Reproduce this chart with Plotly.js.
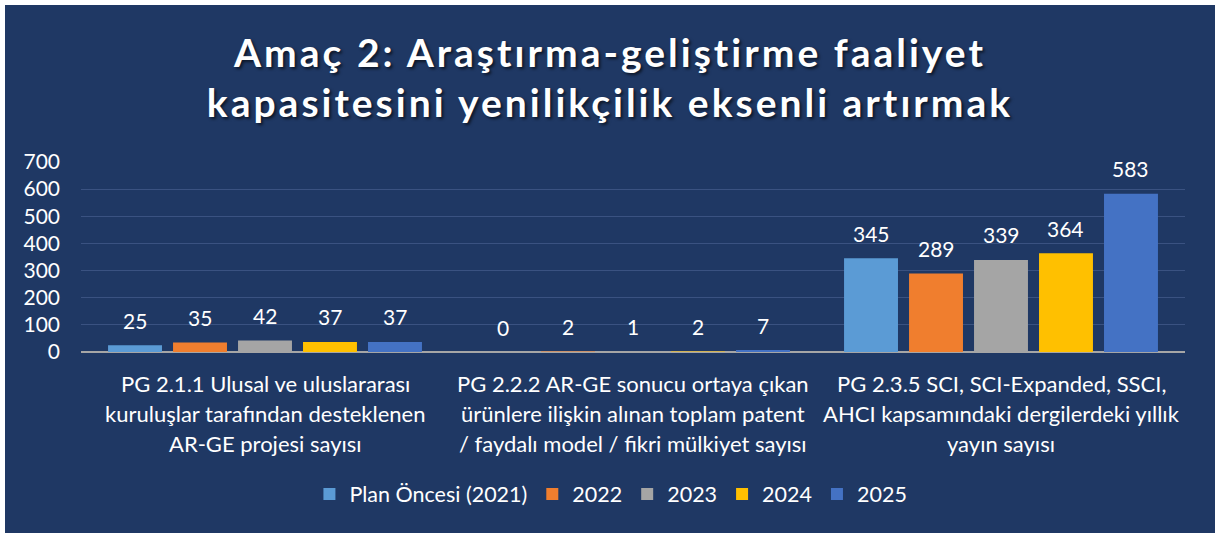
<!DOCTYPE html>
<html><head><meta charset="utf-8">
<script src="https://cdn.plot.ly/plotly-3.0.1.min.js"></script>
<style>
html,body{margin:0;padding:0;background:#ffffff;}
#chart{position:absolute;left:5px;top:5px;width:1210px;height:528px;}
#chart .gtitle{letter-spacing:3px;}
</style>
</head><body><div id="chart"></div>
<script>
const categories = [
  "PG 2.1.1 Ulusal ve uluslararası<br>kuruluşlar tarafından desteklenen<br>AR-GE projesi sayısı",
  "PG 2.2.2 AR-GE sonucu ortaya çıkan<br>ürünlere ilişkin alınan toplam patent<br>/ faydalı model / fikri mülkiyet sayısı",
  "PG 2.3.5 SCI, SCI-Expanded, SSCI,<br>AHCI kapsamındaki dergilerdeki yıllık<br>yayın sayısı"
];
const seriesNames = ["Plan Öncesi (2021)", "2022", "2023", "2024", "2025"];
const values2021 = [25, 0, 345];
const values2022 = [35, 2, 289];
const values2023 = [42, 1, 339];
const values2024 = [37, 2, 364];
const values2025 = [37, 7, 583];
const yTicks = [0, 100, 200, 300, 400, 500, 600, 700];

const seriesValues = [values2021, values2022, values2023, values2024, values2025];
const colors = ["#5b9bd5", "#f07e2e", "#a5a5a5", "#ffc000", "#4472c4"];
const FONT = "Lato, 'Open Sans', sans-serif";

const W = 1210, H = 528;
const margin = {l: 76, r: 30, t: 157, b: 181, pad: 0};
const bargap = 0.117, bargroupgap = 0.17;
const plotW = W - margin.l - margin.r;
const slot = plotW / categories.length * (1 - bargap) / seriesNames.length;

const traces = seriesNames.map((name, i) => ({
  type: "bar",
  name: name,
  x: categories,
  y: seriesValues[i],
  marker: {color: colors[i]},
  hoverinfo: "none"
}));

const annotations = [];
seriesValues.forEach((vals, i) => {
  vals.forEach((v, j) => {
    annotations.push({
      x: categories[j], y: v, xref: "x", yref: "y",
      xshift: (i - (seriesNames.length - 1) / 2) * slot,
      yshift: 25, yanchor: "middle", xanchor: "center",
      text: String(v), showarrow: false,
      font: {family: FONT, size: 21, color: "#ffffff"}
    });
  });
});
categories.forEach((c) => {
  c.split("<br>").forEach((line, k) => {
    annotations.push({
      x: c, y: 0, xref: "x", yref: "y",
      yshift: -31 - 30 * k, yanchor: "middle", xanchor: "center",
      text: line, showarrow: false,
      font: {family: FONT, size: 22, color: "#ffffff"}
    });
  });
});

const layout = {
  width: W, height: H,
  margin: margin,
  paper_bgcolor: "#1f3864",
  plot_bgcolor: "#1f3864",
  barmode: "group",
  bargap: bargap,
  bargroupgap: bargroupgap,
  title: {
    text: "Amaç 2: Araştırma-geliştirme faaliyet<br>kapasitesini yenilikçilik eksenli artırmak",
    x: 0.5, xanchor: "center", xref: "container",
    y: 0.883, yanchor: "middle", yref: "container",
    font: {family: FONT, size: 39, color: "#ffffff", weight: 700, shadow: "2px 2px 3px rgba(0,0,0,0.6)"}
  },
  xaxis: {
    showticklabels: false, showgrid: false, zeroline: false, showline: false, ticks: "",
    fixedrange: true
  },
  yaxis: {
    range: [0, 700], tickvals: yTicks, ticktext: yTicks.map(String),
    tickfont: {family: FONT, size: 21, color: "#ffffff"},
    showgrid: true, gridcolor: "#3a5281", gridwidth: 1,
    zeroline: true, zerolinecolor: "#a6a6a6", zerolinewidth: 2,
    showline: false, ticks: "", ticklabelstandoff: 20, fixedrange: true
  },
  legend: {
    orientation: "h", x: 0.48, xanchor: "center", y: -0.747, yanchor: "middle",
    font: {family: FONT, size: 21.5, color: "#ffffff"},
    bgcolor: "rgba(0,0,0,0)", traceorder: "normal"
  },
  annotations: annotations,
  showlegend: true
};

Plotly.newPlot("chart", traces, layout, {displayModeBar: false, staticPlot: true});
</script>
</body></html>
